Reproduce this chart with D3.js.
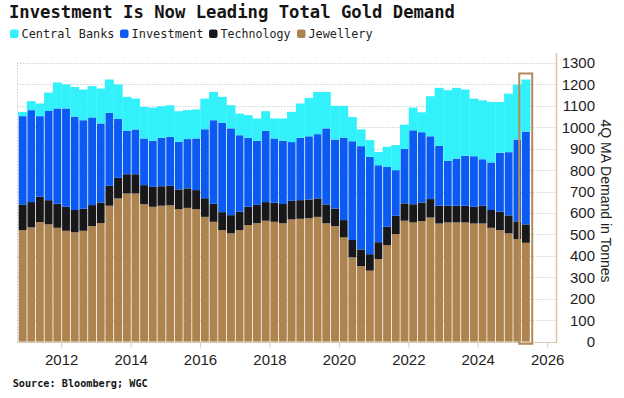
<!DOCTYPE html>
<html>
<head>
<meta charset="utf-8">
<script src="https://cdn.jsdelivr.net/npm/d3@7"></script>
<style>
  html, body { margin: 0; padding: 0; background: #fff; }
  svg { display: block; }
</style>
</head>
<body>
<svg id="chart" width="624" height="398"></svg>
<script>
const quarters = [
  "2010Q4",
  "2011Q1","2011Q2","2011Q3","2011Q4",
  "2012Q1","2012Q2","2012Q3","2012Q4",
  "2013Q1","2013Q2","2013Q3","2013Q4",
  "2014Q1","2014Q2","2014Q3","2014Q4",
  "2015Q1","2015Q2","2015Q3","2015Q4",
  "2016Q1","2016Q2","2016Q3","2016Q4",
  "2017Q1","2017Q2","2017Q3","2017Q4",
  "2018Q1","2018Q2","2018Q3","2018Q4",
  "2019Q1","2019Q2","2019Q3","2019Q4",
  "2020Q1","2020Q2","2020Q3","2020Q4",
  "2021Q1","2021Q2","2021Q3","2021Q4",
  "2022Q1","2022Q2","2022Q3","2022Q4",
  "2023Q1","2023Q2","2023Q3","2023Q4",
  "2024Q1","2024Q2","2024Q3","2024Q4",
  "2025Q1","2025Q2"
];
const jewellery = [
  520,
  533,558,547,531,
  517,510,517,539,
  553,634,668,691,
  691,641,629,634,
  636,618,624,618,
  582,559,520,505,
  520,544,553,564,
  559,552,570,573,
  576,582,552,539,
  486,393,352,331,
  385,450,502,564,
  556,562,579,551,
  556,556,556,551,
  551,531,520,505,
  478,461
];
const technology = [
  120,
  118,118,113,112,
  112,104,103,98,
  96,93,96,90,
  90,89,93,91,
  91,92,91,89,
  87,84,84,85,
  86,85,85,87,
  89,90,87,87,
  87,86,88,82,
  81,81,78,77,
  79,86,85,81,
  85,87,86,83,
  78,78,78,78,
  83,83,86,84,
  83,86
];
const investment = [
  412,
  429,376,416,445,
  459,436,413,409,
  369,340,275,202,
  209,218,215,226,
  228,222,230,241,
  322,390,417,405,
  357,322,299,332,
  300,295,274,291,
  295,300,355,322,
  385,461,482,454,
  359,279,213,254,
  345,328,293,279,
  209,220,233,236,
  217,222,275,295,
  382,433
];
const centralBanks = [
  20,
  42,59,86,121,
  112,138,143,146,
  163,156,161,159,
  144,147,155,147,
  148,143,135,135,
  143,132,121,108,
  101,106,104,92,
  93,104,141,160,
  179,197,170,157,
  148,113,78,78,
  62,94,117,113,
  106,93,187,271,
  330,330,309,269,
  275,282,237,273,
  256,243
];
const seriesNames = ["Central Banks", "Investment", "Technology", "Jewellery"];
const seriesColors = ["#33f1fa", "#0b5af2", "#18181b", "#ad834f"];
const yTicks = [0,100,200,300,400,500,600,700,800,900,1000,1100,1200,1300];
const xTickYears = [2012,2014,2016,2018,2020,2022,2024,2026];

const svg = d3.select("#chart");

const data = quarters.map((q, i) => ({
  q,
  start: new Date(+q.slice(0, 4), (+q.slice(5) - 1) * 3, 1),
  end: new Date(+q.slice(0, 4), (+q.slice(5)) * 3, 1),
  "Jewellery": jewellery[i],
  "Technology": technology[i],
  "Investment": investment[i],
  "Central Banks": centralBanks[i]
}));

const x = d3.scaleTime()
  .domain([new Date(2012, 0, 1), new Date(2026, 0, 1)])
  .range([61.7, 547.7]);
const y = d3.scaleLinear().domain([0, 1300]).range([341.6, 63]);

const plotLeft = 17, plotRight = 556, plotBottom = 342.5;

// gridlines
svg.append("g").selectAll("line").data(yTicks.filter(d => d > 0)).join("line")
  .attr("x1", plotLeft).attr("x2", plotRight)
  .attr("y1", d => Math.round(y(d)) + 0.5).attr("y2", d => Math.round(y(d)) + 0.5)
  .attr("stroke", "#c9d2d2").attr("stroke-width", 1)
  .attr("stroke-dasharray", "1.5,1.5");
svg.append("line")
  .attr("x1", plotLeft + 0.5).attr("x2", plotLeft + 0.5)
  .attr("y1", 62).attr("y2", plotBottom)
  .attr("stroke", "#c9d2d2").attr("stroke-dasharray", "1.5,1.5");

// stacked bars
const keys = ["Jewellery", "Technology", "Investment", "Central Banks"];
const colorOf = k => seriesColors[seriesNames.indexOf(k)];
const stack = d3.stack().keys(keys)(data);
const gapOf = k => (k === "Central Banks" ? -0.3 : 0.8);
svg.append("g").selectAll("g").data(stack).join("g")
  .attr("fill", s => colorOf(s.key))
  .each(function (s) {
    const g = gapOf(s.key);
    d3.select(this).selectAll("rect").data(s).join("rect")
      .attr("x", d => x(d.data.start) + g / 2)
      .attr("width", d => x(d.data.end) - x(d.data.start) - g)
      .attr("y", d => y(d[1]))
      .attr("height", d => y(d[0]) - y(d[1]));
  });

// bottom and right axis lines
svg.append("line")
  .attr("x1", plotLeft).attr("x2", plotRight)
  .attr("y1", plotBottom).attr("y2", plotBottom)
  .attr("stroke", "#dccbb4").attr("stroke-width", 1);
svg.append("line")
  .attr("x1", plotRight + 0.5).attr("x2", plotRight + 0.5)
  .attr("y1", 53).attr("y2", plotBottom + 0.5)
  .attr("stroke", "#dcc3a3").attr("stroke-width", 1.5);

// highlight box around last bar
const last = data[data.length - 1];
const lastTotal = last["Jewellery"] + last["Technology"] + last["Investment"] + last["Central Banks"];
svg.append("rect")
  .attr("x", x(last.start) - 2.3)
  .attr("width", x(last.end) - x(last.start) + 4.3)
  .attr("y", y(lastTotal) - 6)
  .attr("height", y(0) + 2.2 - (y(lastTotal) - 6))
  .attr("fill", "none")
  .attr("stroke", "#b48a5c").attr("stroke-width", 2);

// x ticks
svg.append("g").selectAll("line").data(xTickYears).join("line")
  .attr("x1", d => x(new Date(d, 0, 1))).attr("x2", d => x(new Date(d, 0, 1)))
  .attr("y1", plotBottom + 0.5).attr("y2", plotBottom + 5)
  .attr("stroke", "#c9d2d2");
svg.append("g").selectAll("text").data(xTickYears).join("text")
  .attr("x", d => x(new Date(d, 0, 1)))
  .attr("y", 365)
  .attr("text-anchor", "middle")
  .attr("font-family", "'Liberation Sans', Arial, sans-serif")
  .attr("font-size", 15)
  .attr("fill", "#1e1e1e")
  .text(d => d);

// right y labels
svg.append("g").selectAll("text").data(yTicks).join("text")
  .attr("x", 595)
  .attr("y", d => y(d))
  .attr("dy", "0.36em")
  .attr("text-anchor", "end")
  .attr("font-family", "'Liberation Sans', Arial, sans-serif")
  .attr("font-size", 15)
  .attr("fill", "#1e1e1e")
  .text(d => d);

// axis title
svg.append("text")
  .attr("transform", "translate(606,201) rotate(90)")
  .attr("text-anchor", "middle")
  .attr("dy", "0.35em")
  .attr("font-family", "'Liberation Sans', Arial, sans-serif")
  .attr("font-size", 14)
  .attr("fill", "#1e1e1e")
  .text("4Q MA Demand in Tonnes");

// title
svg.append("text")
  .attr("x", 9).attr("y", 17.5)
  .attr("font-family", "'DejaVu Sans Mono', monospace")
  .attr("font-weight", "bold")
  .attr("font-size", 17)
  .attr("textLength", 446)
  .attr("lengthAdjust", "spacingAndGlyphs")
  .attr("fill", "#151515")
  .text("Investment Is Now Leading Total Gold Demand");

// legend
const legendX = [10, 120, 209, 297];
const legendTextW = [93, 72, 70, 64];
const lg = svg.append("g");
seriesNames.forEach((name, i) => {
  lg.append("rect")
    .attr("x", legendX[i]).attr("y", 29.5)
    .attr("width", 8.5).attr("height", 8.5)
    .attr("rx", 2)
    .attr("fill", seriesColors[i]);
  lg.append("text")
    .attr("x", legendX[i] + 11.5).attr("y", 38)
    .attr("font-family", "'DejaVu Sans Mono', monospace")
    .attr("font-size", 12)
    .attr("textLength", legendTextW[i])
    .attr("lengthAdjust", "spacingAndGlyphs")
    .attr("fill", "#1e1e1e")
    .text(name);
});

// source
svg.append("text")
  .attr("x", 12.7).attr("y", 386.5)
  .attr("font-family", "'DejaVu Sans Mono', monospace")
  .attr("font-weight", "bold")
  .attr("font-size", 10)
  .attr("textLength", 135)
  .attr("lengthAdjust", "spacingAndGlyphs")
  .attr("fill", "#151515")
  .text("Source: Bloomberg; WGC");
</script>
</body>
</html>
